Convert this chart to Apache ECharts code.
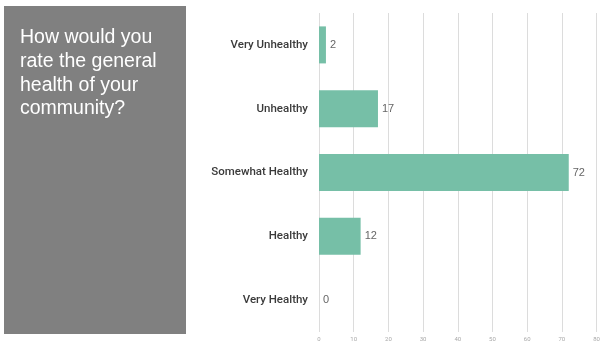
<!DOCTYPE html>
<html><head><meta charset="utf-8">
<script src="https://cdn.jsdelivr.net/npm/echarts@6/dist/echarts.min.js"></script>
<style>html,body{margin:0;padding:0;background:#fff;overflow:hidden}#c{width:600px;height:343px}</style>
</head><body><div id="c"></div>
<script>
var categories = ['Very Unhealthy', 'Unhealthy', 'Somewhat Healthy', 'Healthy', 'Very Healthy'];
var values = [2, 17, 72, 12, 0];
var titleLines = ['How would you', 'rate the general', 'health of your', 'community?'];

var chart = echarts.init(document.getElementById('c'), null, {renderer: 'canvas'});
chart.setOption({
  animation: false,
  backgroundColor: '#fff',
  graphic: [
    {type: 'rect', left: 4, top: 6, shape: {width: 182, height: 328}, style: {fill: '#808080'}, z: 0},
    {type: 'text', left: 20, top: 26, style: {text: titleLines.join('\n'), fill: '#fff', font: '19.5px "Liberation Sans", Arial, sans-serif', lineHeight: 23.7}, z: 1}
  ],
  grid: {left: 319, right: 3.5, top: 13, bottom: 11, containLabel: false, outerBoundsMode: 'none'},
  xAxis: {
    type: 'value', min: 0, max: 80, interval: 10,
    axisLine: {show: false}, axisTick: {show: false},
    splitLine: {show: true, lineStyle: {color: '#dcdcdc', width: 1}},
    axisLabel: {fontSize: 6, color: '#a8a8a8', margin: 4, fontFamily: 'Roboto'}
  },
  yAxis: {
    type: 'category', data: categories, inverse: true,
    axisLine: {show: false}, axisTick: {show: false},
    axisLabel: {fontSize: 11.5, color: '#3a3a3a', fontWeight: 500, margin: 11, fontFamily: 'Roboto, "Liberation Sans", sans-serif'}
  },
  series: [{
    type: 'bar', data: values, barCategoryGap: '42%',
    itemStyle: {color: '#76bfa7'},
    label: {show: true, position: 'right', distance: 4, fontSize: 11, color: '#666', fontFamily: '"Liberation Sans", Arial, sans-serif'}
  }]
});
</script></body></html>
